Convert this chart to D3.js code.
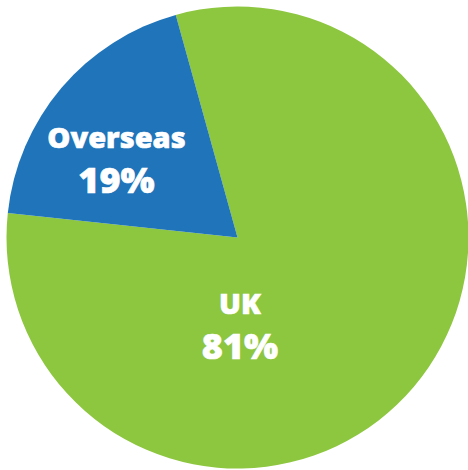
<!DOCTYPE html>
<html>
<head>
<meta charset="utf-8">
<script src="https://cdn.jsdelivr.net/npm/d3@7"></script>
<style>
  body { margin: 0; background: #fff; }
  text { font-family: "Open Sans", Lato, sans-serif; font-weight: 800; fill: #fff; stroke: #fff; stroke-width: 0.6px; }
</style>
</head>
<body>
<div id="chart"></div>
<script>
var labels = ["UK", "Overseas"];
var values = [81, 19];
var colors = ["#8dc63f", "#1f74ba"];

var width = 468, height = 470;
var cx = 237.5, cy = 237.5, radius = 231;
var start = -15.5 * Math.PI / 180;

var svg = d3.select("#chart").append("svg").attr("width", width).attr("height", height);
var g = svg.append("g").attr("transform", "translate(" + cx + "," + cy + ")");

var pie = d3.pie().sort(null).startAngle(start).endAngle(start + 2 * Math.PI);
var arc = d3.arc().innerRadius(0).outerRadius(radius);
var arcs = pie(values);

g.selectAll("path").data(arcs).enter().append("path")
  .attr("d", arc)
  .attr("fill", function(d, i) { return colors[i]; });

// label spots, relative to centre
var spots = [[2.5, 0], [-121, -90]];
var lab = g.selectAll("g.lab").data(arcs).enter().append("g")
  .attr("class", "lab")
  .attr("transform", function(d, i) { return "translate(" + spots[i][0] + "," + spots[i][1] + ")"; });

lab.append("text")
  .attr("text-anchor", "middle")
  .attr("y", function(d, i) { return i == 0 ? 76 : 0; })
  .style("font-size", "29px")
  .text(function(d, i) { return labels[i]; });

lab.append("text")
  .attr("text-anchor", "middle")
  .attr("y", function(d, i) { return i == 0 ? 121 : 45; })
  .style("font-size", "36px")
  .text(function(d) { return d.data + "%"; });
</script>
</body>
</html>
